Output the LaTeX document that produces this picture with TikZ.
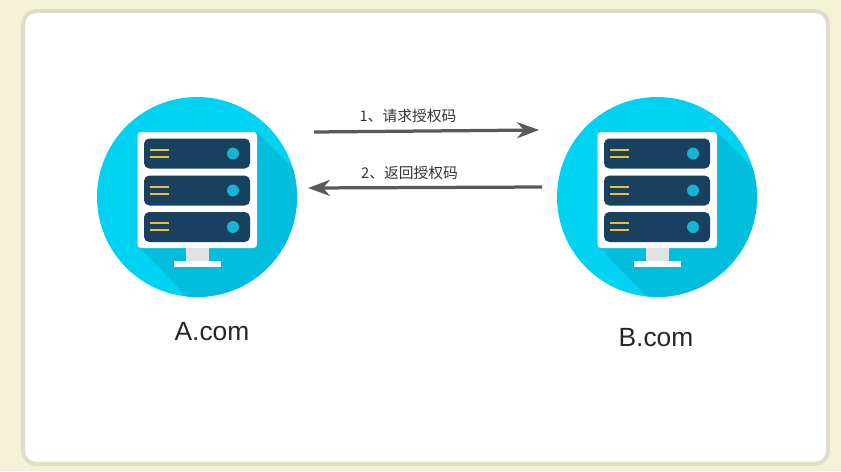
\documentclass[tikz,border=0pt]{standalone}
\usepackage{fontspec}
\setmainfont{Liberation Sans}
\newfontfamily\cjk{Noto Sans CJK SC}
\usetikzlibrary{arrows.meta, positioning}

\definecolor{paperbg}{HTML}{F4F2D5}
\definecolor{cardline}{HTML}{DEDDCB}
\definecolor{discblue}{HTML}{00D2F2}
\definecolor{discshade}{HTML}{00BEDC}
\definecolor{rackblue}{HTML}{17415F}
\definecolor{dotblue}{HTML}{18B4D2}
\definecolor{ledyellow}{HTML}{EDBE3C}
\definecolor{standgray}{HTML}{DFE3E4}
\definecolor{arrowgray}{HTML}{5A5A5A}

\tikzset{
	% Un rack del monitor: caja, dos rayas y un punto
	pics/rackunit/.style={code={
		\fill [rackblue, rounded corners=3pt] (-53,-15) rectangle (53,15);
		\fill [ledyellow] (-47,-5) rectangle (-28,-3);
		\fill [ledyellow] (-47,2) rectangle (-28,4);
		\fill [dotblue] (36,0) circle (6);
	}},
	pics/serverimg/.style={code={
		\begin{scope}
			\clip (0,0) circle (100);
			\fill [discshade] (60,-65) -- (115,-10) -- (115,105) -- (-5,105) -- (-57,51) -- cycle;
		\end{scope}
		\fill [white, rounded corners=2pt] (-59.5,-65) rectangle (60,51);
		\fill [standgray] (-11,51) rectangle (12,64);
		\fill [white] (-23,64) rectangle (24,70);
		\pic at (0,-43.5) {rackunit};
		\pic at (0,-6.5) {rackunit};
		\pic at (0,30) {rackunit};
	}}
}

\begin{document}
\begin{tikzpicture}[
		x=0.02cm, y=-0.02cm,
		% Estilos del dibujo
		card/.style={draw=cardline, line width=0.08cm, fill=white, rounded corners=0.26cm},
		disc/.style={circle, fill=discblue, minimum size=4cm, inner sep=0pt},
		hostlabel/.style={font=\fontsize{15}{18}\selectfont, text=black!85},
		steplabel/.style={font=\cjk\fontsize{8.4}{10}\selectfont, text=black!80},
		flow/.style={draw=arrowgray, line width=0.065cm, -{Stealth[length=0.44cm, width=0.32cm, inset=0.14cm]}}
		]
		
		\useasboundingbox [fill=paperbg] (0,0) rectangle (841,471);
		\node [card, minimum width=16.1cm, minimum height=9.06cm, inner sep=0pt] (panel) at (425.5,237.5) {};
		
		% --- SERVIDORES ---
		\node [disc] (hosta) at (197,197) {};
		\pic at (hosta.center) {serverimg};
		\node [disc] (hostb) at (657,197) {};
		\pic at (hostb.center) {serverimg};
		
		\node [hostlabel] (namea) at (212,332) {A.com};
		\node [hostlabel] (nameb) at (656,338) {B.com};
		
		% --- FLECHAS ---
		\coordinate (reqfrom) at (314,132);
		\coordinate (reqto) at (539,130);
		\coordinate (retfrom) at (542,187);
		\coordinate (retto) at (308,188);
		
		\draw [flow] (reqfrom) -- (reqto);
		\draw [flow] (retfrom) -- (retto);
		
		\node [steplabel] (reqtext) at (408,116) {1、请求授权码};
		\node [steplabel] (rettext) at (409.5,173) {2、返回授权码};
		
	\end{tikzpicture}
\end{document}
